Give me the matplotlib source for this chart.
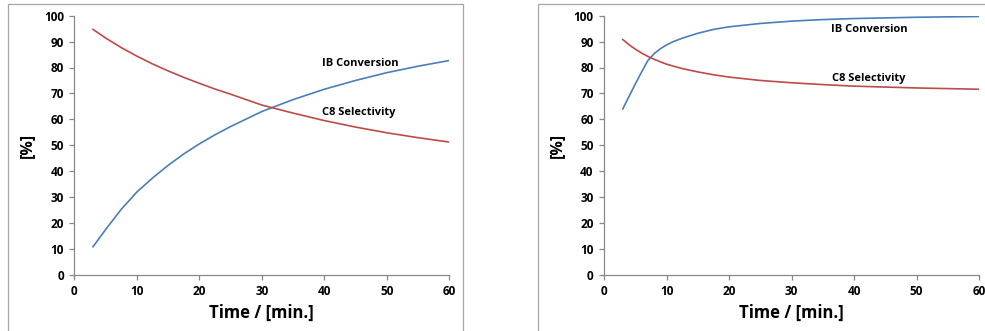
import matplotlib
matplotlib.use("Agg")
import matplotlib.pyplot as plt
from matplotlib.patches import Rectangle

plt.rcParams["font.family"] = ["Open Sans", "DejaVu Sans"]
plt.rcParams["font.weight"] = "bold"

# batch run, slow catalyst
time_a = [3, 5, 7.5, 10, 12.5, 15, 17.5, 20, 22.5, 25, 30, 35, 40, 45, 50, 55, 60]
ib_conversion_a = [10.8, 17.4, 25.2, 31.9, 37.3, 42.2, 46.6, 50.5, 54.0, 57.2, 63.0, 67.6, 71.6, 75.0, 78.0, 80.5, 82.7]
c8_selectivity_a = [94.7, 91.4, 87.7, 84.4, 81.4, 78.7, 76.2, 73.9, 71.7, 69.7, 65.5, 62.4, 59.5, 57.0, 54.8, 52.9, 51.2]

# batch run, fast catalyst
time_b = [3, 4, 5, 6, 7, 8, 9, 10, 11, 12.5, 15, 17.5, 20, 25, 30, 35, 40, 50, 60]
ib_conversion_b = [64.0, 68.8, 73.6, 78.2, 82.6, 85.3, 87.2, 88.7, 89.9, 91.3, 93.2, 94.7, 95.7, 97.0, 97.9, 98.5, 98.9, 99.4, 99.7]
c8_selectivity_b = [90.8, 88.8, 87.1, 85.6, 84.3, 83.2, 82.2, 81.3, 80.6, 79.6, 78.3, 77.2, 76.3, 75.0, 74.1, 73.4, 72.8, 72.1, 71.6]

# where the series names sit (time, percent)
label_pos_a = {"IB Conversion": (45.8, 81.7), "C8 Selectivity": (45.5, 62.8)}
label_pos_b = {"IB Conversion": (42.4, 94.5), "C8 Selectivity": (42.3, 75.6)}

BLUE = "#4a7ebb"
RED = "#be4b48"
AXIS_GREY = "#888888"
FRAME_GREY = "#a6a6a6"


def draw_panel(ax, t, conv, sel, label_pos):
    ax.plot(t, conv, color=BLUE, lw=1.2)
    ax.plot(t, sel, color=RED, lw=1.2)

    for name, (x, y) in label_pos.items():
        ax.text(x, y, name, ha="center", va="center", fontsize=8, fontweight="bold")

    ax.set_xlim(0, 60)
    ax.set_ylim(0, 100)
    ax.set_xticks(range(0, 61, 10))
    ax.set_yticks(range(0, 101, 10))
    for side in ["top", "right"]:
        ax.spines[side].set_visible(False)
    for side in ["left", "bottom"]:
        ax.spines[side].set_color(AXIS_GREY)
        ax.spines[side].set_linewidth(0.9)
    ax.tick_params(direction="out", length=3.5, width=0.9, color=AXIS_GREY,
                   labelsize=8.5, pad=4)
    for lbl in ax.get_xticklabels() + ax.get_yticklabels():
        lbl.set_fontweight("bold")

    ax.set_xlabel("Time / [min.]", fontsize=12, fontweight="bold")
    ax.set_ylabel("[%]", fontsize=11.5, fontweight="bold")


W, H = 985, 331
fig = plt.figure(figsize=(W / 100, H / 100), dpi=100)

# chart frames like the spreadsheet export
fig.add_artist(Rectangle((8 / W, -0.1), (463 - 8) / W, 1.1 - 4 / H,
                         transform=fig.transFigure, fill=False,
                         edgecolor=FRAME_GREY, lw=0.9))
fig.add_artist(Rectangle((538 / W, -0.1), 0.6, 1.1 - 4 / H,
                         transform=fig.transFigure, fill=False,
                         edgecolor=FRAME_GREY, lw=0.9))

ax1 = fig.add_axes([74.3 / W, 1 - 274.7 / H, 375 / W, 259 / H])
ax2 = fig.add_axes([604 / W, 1 - 274.7 / H, 375 / W, 259 / H])

draw_panel(ax1, time_a, ib_conversion_a, c8_selectivity_a, label_pos_a)
draw_panel(ax2, time_b, ib_conversion_b, c8_selectivity_b, label_pos_b)

for ax, ylab_x in [(ax1, 27), (ax2, 557)]:
    ax.yaxis.set_label_coords((ylab_x - ax.get_position().x0 * W) / 375, 0.5)
    ax.yaxis.label.set_va("center")
    ax.xaxis.set_label_coords(0.5, -(313 - 274.7) / 259)
    ax.xaxis.label.set_va("center")

fig.savefig("out.png", dpi=100)
